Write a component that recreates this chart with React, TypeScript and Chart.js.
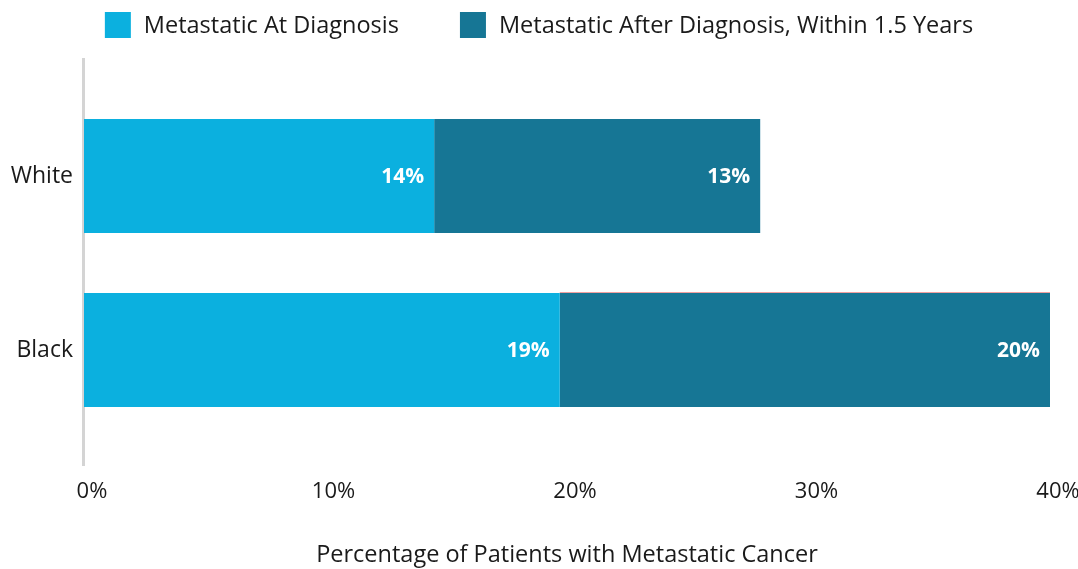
import React, { useEffect, useRef } from 'react';
import { Chart, registerables } from 'chart.js';

Chart.register(...registerables);

const categories = ['White', 'Black'];
const seriesNames = ['Metastatic At Diagnosis', 'Metastatic After Diagnosis, Within 1.5 Years'];
const atDiagnosis = [14.5, 19.7];
const afterDiagnosis = [13.5, 20.3];
const atDiagnosisLabels = ['14%', '19%'];
const afterDiagnosisLabels = ['13%', '20%'];
const xMax = 40;
const xStep = 10;
const axisTitle = 'Percentage of Patients with Metastatic Cancer';

const LIGHT = '#0bb0df';
const DARK = '#167695';
const FONT = '"Open Sans", sans-serif';
const TEXT = '#1a1a1a';

const topLegend = {
  id: 'topLegend',
  afterDraw(chart: any) {
    const ctx = chart.ctx;
    const ds = chart.data.datasets;
    ctx.save();
    ctx.font = `23.5px ${FONT}`;
    ctx.textBaseline = 'middle';
    const box = 26;
    const gapText = 13;
    const gapItem = 61;
    const widths = ds.map((d: any) => box + gapText + ctx.measureText(d.label).width);
    const total = widths.reduce((a: number, b: number) => a + b, 0) + gapItem * (ds.length - 1);
    let x = (chart.width - total) / 2;
    const yTop = 12;
    ds.forEach((d: any, i: number) => {
      ctx.fillStyle = d.backgroundColor;
      ctx.fillRect(x, yTop, box, box);
      ctx.fillStyle = TEXT;
      ctx.textAlign = 'left';
      ctx.fillText(d.label, x + box + gapText, yTop + box / 2 + 1);
      x += widths[i] + gapItem;
    });
    ctx.restore();
  },
};

const axisLine = {
  id: 'axisLine',
  beforeDatasetsDraw(chart: any) {
    const ctx = chart.ctx;
    const xs = chart.scales.x;
    const area = chart.chartArea;
    const x0 = xs.getPixelForValue(0) - 0.5;
    ctx.save();
    ctx.strokeStyle = '#d4d4d4';
    ctx.lineWidth = 3;
    ctx.beginPath();
    ctx.moveTo(x0, area.top - 31);
    ctx.lineTo(x0, area.bottom + 29);
    ctx.stroke();
    ctx.restore();
  },
};

const barLabels = {
  id: 'barLabels',
  afterDatasetsDraw(chart: any) {
    const ctx = chart.ctx;
    const labelSets = [atDiagnosisLabels, afterDiagnosisLabels];
    ctx.save();
    // faint top edge on the Black "after diagnosis" segment
    const el2 = chart.getDatasetMeta(1).data[1];
    if (el2) {
      ctx.strokeStyle = '#f2a0a0';
      ctx.lineWidth = 1;
      ctx.beginPath();
      const yTop = el2.y - el2.height / 2 - 0.5;
      ctx.moveTo(el2.base, yTop);
      ctx.lineTo(el2.x, yTop);
      ctx.stroke();
    }
    ctx.font = `bold 21px ${FONT}`;
    ctx.fillStyle = '#ffffff';
    ctx.textAlign = 'right';
    ctx.textBaseline = 'middle';
    chart.data.datasets.forEach((_d: any, di: number) => {
      const meta = chart.getDatasetMeta(di);
      meta.data.forEach((el: any, i: number) => {
        ctx.fillText(labelSets[di][i], el.x - 10, el.y + 1);
      });
    });
    ctx.restore();
  },
};

export default function App() {
  const ref = useRef<HTMLCanvasElement | null>(null);

  useEffect(() => {
    document.body.style.margin = '0';
    if (!ref.current) return;
    Chart.defaults.font.family = FONT;
    const chart = new Chart(ref.current, {
      type: 'bar',
      data: {
        labels: categories,
        datasets: [
          {
            label: seriesNames[0],
            data: atDiagnosis,
            backgroundColor: LIGHT,
            borderWidth: 0,
            categoryPercentage: 1,
            barPercentage: 0.655,
          },
          {
            label: seriesNames[1],
            data: afterDiagnosis,
            backgroundColor: DARK,
            borderWidth: 0,
            categoryPercentage: 1,
            barPercentage: 0.655,
          },
        ],
      },
      options: {
        indexAxis: 'y',
        responsive: false,
        animation: false,
        layout: { padding: { top: 89, right: 28, left: 0, bottom: 0 } },
        plugins: {
          legend: { display: false },
          tooltip: { enabled: false },
        },
        scales: {
          x: {
            stacked: true,
            min: 0,
            max: xMax,
            grid: { display: false, drawTicks: false },
            border: { display: false },
            ticks: {
              stepSize: xStep,
              padding: 42,
              labelOffset: 8,
              color: TEXT,
              font: { size: 22, family: FONT },
              callback: (v: any) => `${v}%`,
            },
            title: {
              display: true,
              text: axisTitle,
              color: TEXT,
              font: { size: 23.5, family: FONT },
              padding: { top: 0, bottom: 0 },
            },
            afterFit: (s: any) => {
              s.height = 132;
              s.paddingLeft = 0;
              s.paddingRight = 0;
            },
          },
          y: {
            stacked: true,
            grid: { display: false, drawTicks: false },
            border: { display: false },
            ticks: {
              padding: 11,
              color: TEXT,
              font: { size: 23, family: FONT },
            },
            afterFit: (s: any) => {
              s.width = 84;
            },
          },
        },
      } as any,
      plugins: [axisLine, barLabels, topLegend],
    });
    return () => chart.destroy();
  }, []);

  return (
    <div style={{ position: 'absolute', left: 0, top: 0, width: 1078, height: 569, background: '#fff' }}>
      <canvas ref={ref} width={1078} height={569} style={{ display: 'block' }} />
    </div>
  );
}
